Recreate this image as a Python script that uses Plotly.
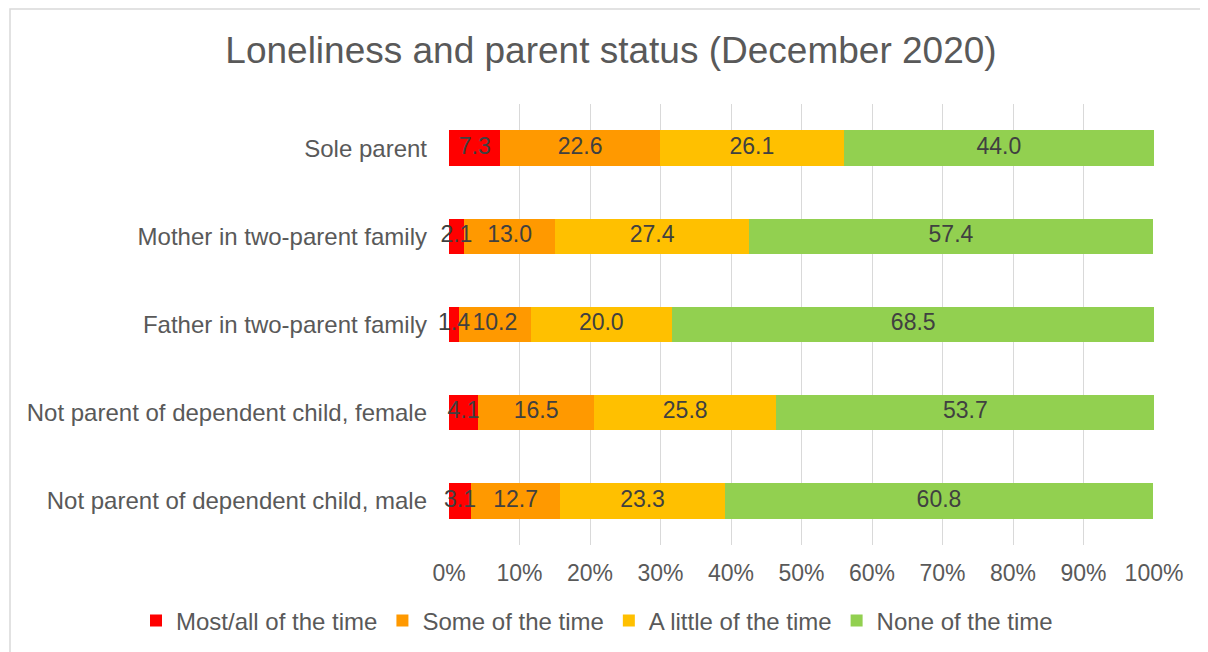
import plotly.graph_objects as go

categories = [
    "Sole parent",
    "Mother in two-parent family",
    "Father in two-parent family",
    "Not parent of dependent child, female",
    "Not parent of dependent child, male",
]
series_names = ["Most/all of the time", "Some of the time", "A little of the time", "None of the time"]
most_all = [7.3, 2.1, 1.4, 4.1, 3.1]
some = [22.6, 13.0, 10.2, 16.5, 12.7]
a_little = [26.1, 27.4, 20.0, 25.8, 23.3]
none_time = [44.0, 57.4, 68.5, 53.7, 60.8]
colors = ["#FF0000", "#FF9900", "#FFC000", "#92D050"]
tick_vals = [0, 10, 20, 30, 40, 50, 60, 70, 80, 90, 100]
tick_text = ["0%", "10%", "20%", "30%", "40%", "50%", "60%", "70%", "80%", "90%", "100%"]

FONT = "Liberation Sans, Arial, sans-serif"

series = [most_all, some, a_little, none_time]

fig = go.Figure()
for name, vals, col in zip(series_names, series, colors):
    fig.add_trace(go.Bar(
        y=categories, x=vals, name=name, orientation="h",
        marker=dict(color=col, line=dict(width=0)),
        hoverinfo="skip",
    ))

# data labels drawn on top of all bars, centred in each segment
cum = [0.0] * len(categories)
for vals in series:
    mids = [c + v / 2 for c, v in zip(cum, vals)]
    fig.add_trace(go.Scatter(
        y=categories, x=mids, mode="text",
        text=[f"{v:.1f}" for v in vals],
        textposition="middle center",
        textfont=dict(family=FONT, size=23, color="#404040"),
        showlegend=False, hoverinfo="skip", cliponaxis=False,
    ))
    cum = [c + v for c, v in zip(cum, vals)]

W, H = 1200, 644
L, R, T, B = 441, 54, 96, 107
pw, ph = W - L - R, H - T - B

fig.update_layout(
    width=W, height=H,
    barmode="stack", bargap=0.6,
    margin=dict(l=L, r=R, t=T, b=B, autoexpand=False),
    paper_bgcolor="white", plot_bgcolor="white",
    font=dict(family=FONT, color="#595959", size=22),
    title=dict(text="Loneliness and parent status (December 2020)",
               x=603 / W, xanchor="center", y=1 - 42 / H, yanchor="middle",
               font=dict(family=FONT, size=37, color="#595959")),
    xaxis=dict(range=[0, 100], tickvals=tick_vals, ticktext=tick_text,
               showgrid=True, gridcolor="#D9D9D9", gridwidth=1,
               zeroline=False, showline=False, ticks="",
               tickfont=dict(size=23, color="#595959"), ticklabelstandoff=12,
               fixedrange=True),
    yaxis=dict(categoryorder="array", categoryarray=categories, autorange="reversed",
               showgrid=False, zeroline=False, showline=False, ticks="",
               tickfont=dict(size=24, color="#595959"), ticklabelstandoff=21),
    legend=dict(orientation="h", xref="paper", x=(128 - L) / pw, xanchor="left",
                yref="paper", y=-(613 - (H - B)) / ph, yanchor="middle",
                font=dict(size=24, color="#595959"), traceorder="normal",
                itemwidth=30, tracegroupgap=0),
    showlegend=True,
    shapes=[dict(type="rect", xref="paper", yref="paper",
                 x0=(2 - L) / pw, x1=(W + 20 - L) / pw,
                 y0=-(H + 20 - (H - B)) / ph, y1=((H - B) - 1) / ph,
                 line=dict(color="#D9D9D9", width=1.5), fillcolor="rgba(0,0,0,0)",
                 layer="below")],
)

fig.write_html("out.html")
